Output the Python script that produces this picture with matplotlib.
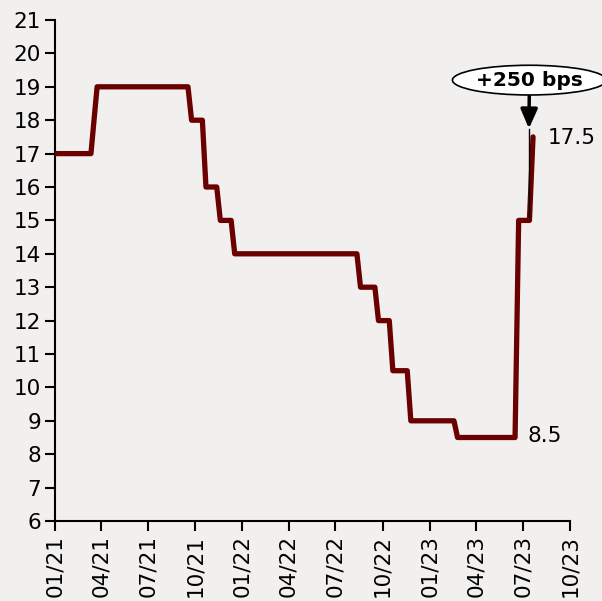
import matplotlib
matplotlib.use('Agg')
import matplotlib.pyplot as plt
import pandas as pd

# policy rate (%), turning points of the weekly series
rate_dates = ['2021-01-01', '2021-03-12', '2021-03-24', '2021-09-17', '2021-09-24',
              '2021-10-15', '2021-10-22', '2021-11-12', '2021-11-19', '2021-12-10',
              '2021-12-17', '2022-08-12', '2022-08-19', '2022-09-16', '2022-09-23',
              '2022-10-14', '2022-10-21', '2022-11-18', '2022-11-25', '2023-02-17',
              '2023-02-24', '2023-06-16', '2023-06-23', '2023-07-14', '2023-07-21']
rate_values = [17, 17, 19, 19, 18,
               18, 16, 16, 15, 15,
               14, 14, 13, 13, 12,
               12, 10.5, 10.5, 9, 9,
               8.5, 8.5, 15, 15, 17.5]
tick_dates = ['2021-01-01', '2021-04-01', '2021-07-01', '2021-10-01', '2022-01-01', '2022-04-01',
              '2022-07-01', '2022-10-01', '2023-01-01', '2023-04-01', '2023-07-01', '2023-10-01']
tick_labels = ['01/21', '04/21', '07/21', '10/21', '01/22', '04/22',
               '07/22', '10/22', '01/23', '04/23', '07/23', '10/23']
y_ticks = list(range(6, 22))

bg = '#f2f0ef'
red = '#6b0000'

x = pd.to_datetime(rate_dates)
ticks = pd.to_datetime(tick_dates)

fig = plt.figure(figsize=(6.02, 6.01), dpi=100, facecolor=bg)
ax = fig.add_axes([55/602, 1-521/601, 515/602, 501/601], facecolor=bg)

ax.plot(x, rate_values, color=red, lw=3.8, solid_joinstyle='round', solid_capstyle='round', zorder=3)

ax.set_xlim(ticks[0], ticks[-1])
ax.set_ylim(6, 21)
ax.set_yticks(y_ticks)
ax.set_xticks(ticks)
ax.set_xticklabels(tick_labels, rotation=90)
ax.tick_params(axis='both', length=7, width=1.5, color='black', labelcolor='black')
ax.tick_params(axis='y', pad=3, labelsize=15.5)
ax.tick_params(axis='x', pad=3, labelsize=15.5)
for s in ['top', 'right']:
    ax.spines[s].set_visible(False)
for s in ['left', 'bottom']:
    ax.spines[s].set_linewidth(1.5)

# end labels
ax.text(pd.Timestamp('2023-08-18'), 17.47, '17.5', fontsize=15.5, va='center', ha='left')
ax.text(pd.Timestamp('2023-07-10'), 8.55, '8.5', fontsize=15.5, va='center', ha='left')

# callout
ax.plot([pd.Timestamp('2023-07-13'), pd.Timestamp('2023-07-13')], [17.75, 15.1],
        color='black', lw=1, zorder=4)
ax.annotate('+250 bps', xy=(pd.Timestamp('2023-07-13'), 17.75),
            xytext=(pd.Timestamp('2023-07-14'), 19.2),
            fontsize=14.5, fontweight='bold', ha='center', va='center',
            bbox=dict(boxstyle='ellipse,pad=0.05', fc='white', ec='black', lw=1.2),
            arrowprops=dict(arrowstyle='-|>,head_length=0.8,head_width=0.35', color='black', lw=2.5,
                            shrinkA=0, shrinkB=0),
            annotation_clip=False, zorder=5)

fig.savefig('out.png', dpi=100, facecolor=bg)
